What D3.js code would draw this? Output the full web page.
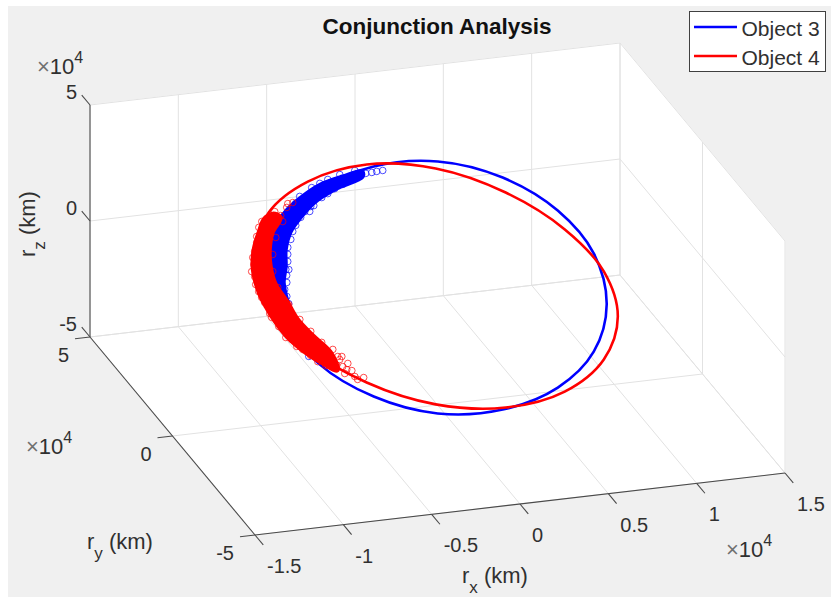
<!doctype html>
<html>
<head>
<meta charset="utf-8">
<title>Conjunction Analysis</title>
<script src="https://d3js.org/d3.v7.min.js"></script>
<style>
    body { margin: 0; background: #fff; }
    svg { display: block; }
    text { font-family: 'Liberation Sans', Arial, sans-serif; fill: #303030; }
    .tick { font-size: 20px; }
    .label { font-size: 22px; }
    .power { font-size: 22px; }
    .legend-text { font-size: 21px; }
    .title { font-size: 22.5px; font-weight: bold; fill: #111; text-anchor: middle; }
</style>
</head>
<body>
<svg id="chart" width="831" height="597"></svg>
<script>
// all positions in units of 1e4 km
const xTicks = [-1.5, -1, -0.5, 0, 0.5, 1, 1.5];
const yTicks = [-5, 0, 5];
const zTicks = [-5, 0, 5];
const seriesNames = ["Object 3", "Object 4"];
const seriesColors = ["#0000ff", "#ff0000"];

// orbit tracks
const orbit3X = [.142,.509,.774,.931,.911,.791,.541,.229,-.139,-.501,-.766,-.923,-.903,-.788,-.526,-.221];
const orbit3Y = [1.5,1.5,1,.5,-.5,-1,-1.5,-1.5,-1.5,-1.5,-1,-.5,.5,1,1.5,1.5];
const orbit3Z = [4.09,3.07,1.84,.28,-1.05,-2.55,-3.45,-4.12,-3.96,-2.91,-1.68,-.02,1.26,2.54,3.48,4.20];

const orbit4X = [.130,.526,.814,.988,.974,.848,.580,.246,-.150,-.541,-.828,-1.002,-.988,-.862,-.594,-.260];
const orbit4Y = [1.5,1.5,1,.5,-.5,-1,-1.5,-1.5,-1.5,-1.5,-1,-.5,.5,1,1.5,1.5];
const orbit4Z = [3.80,2.41,.99,-.55,-1.63,-2.94,-3.66,-4.05,-3.56,-2.27,-.93,.69,1.90,3.21,3.88,4.32];

// outline of the part of each sample cloud where the circles overlap solid
const dense3X = [-.289,-.396,-.509,-.600,-.760,-.828,-.914,-.950,-.951,-.883,-.872,-.900,-.876,-.818,-.818,-.743,-.675,-.590,-.430,-.289];
const dense3Y = [1.5,1.5,1.5,1.5,1,1,.5,0,-.5,-.5,-.5,-.5,0,.5,.5,1,1,1,1.5,1.5];
const dense3Z = [4.00,3.88,3.68,3.33,3.16,2.36,1.88,1.25,.61,-.10,.02,.65,1.06,1.27,2.00,2.29,2.96,3.53,3.48,3.83];

const dense4X = [-.839,-.884,-.913,-.988,-.993,-1.006,-1.013,-.968,-.941,-.833,-.743,-.710,-.703,-.800,-.843,-.900,-.921,-.903,-.908,-.845,-.800];
const dense4Y = [1,1,1,.5,.5,0,-.5,-.5,-1,-1,-1,-1.5,-1,-1,-.5,-.5,0,.5,.5,1,1];
const dense4Z = [3.10,2.93,2.40,2.16,1.30,.75,.57,-.03,-.35,-1.14,-1.65,-1.56,-1.26,-.48,-.14,.65,1.01,1.35,2.09,2.34,2.94];

// single samples that can still be told apart
const samples3X = [-.170,-.204,-.232,-.266,-.345,-.442,-.515,-.624,-.681,-.726,-.754,-.801,-.807,-.865,-.889,-.900,-.951,-.928,-.900,-.884,-.822,-.526,-.640,-.396,-.630,-.812,
    -.328,-.413,-.481,-.572,-.709,-.777,-.362,-.481,-.607,-.658,-.709,-.737,-.801,-.795,-.853,-.853];
const samples3Y = [1.5,1.5,1.5,1.5,1.5,1.5,1.5,1,1,1,1,.5,.5,0,-.5,-.5,-.5,-.5,-.5,-1,-1,1.5,1.5,1.5,1,.5,
    1.5,1.5,1.5,1.5,1,1,1.5,1.5,1,1,1,1,.5,.5,0,0];
const samples3Z = [3.98,3.97,3.95,3.94,3.88,3.44,3.12,3.26,2.84,2.27,1.61,1.47,.88,.75,.59,.22,.13,-.19,-.17,-.66,-1.32,3.74,3.28,3.58,3.05,1.14,
    4.12,4.02,3.87,3.60,3.47,2.97,3.72,3.26,3.28,3.07,2.52,1.94,1.78,1.12,1.04,.44];

const samples4X = [-.754,-.726,-.760,-.794,-.828,-.873,-.918,-.930,-.988,-.993,-.988,-1.012,-1.025,-.985,-.918,-.856,-.749,-.715,-.686,-.647,-.664,-.630,-.654,-.625,-.665,-.608,-.592,-.558,
    -.901,-.930,-.999,-1.005,-1.029,-.995,-.996,-.945,-.952,-.890,-.811,-.771,-.726,-.783,-.822,-.886,-.886,-.904,-.889,-.826,-.811,-.749,-.686,-.635,-.601,-.658];
const samples4Y = [1,1,1,1,1,1,1,1,.5,.5,.5,0,-.5,-.5,-1,-1,-1,-1,-1,-1,-1,-1,-1.5,-1.5,-1.5,-1.5,-1.5,-1.5,
    1,1,.5,.5,0,0,-.5,-.5,-1,-1,-1,-1,-1,1,1,.5,.5,0,-.5,-.5,-1,-1,-1,-1,-1,-1];
const samples4Z = [3.50,3.52,3.34,3.02,3.22,2.96,2.62,2.24,2.07,1.51,.99,.79,.76,.08,-.50,-.99,-1.34,-1.55,-1.66,-1.61,-1.85,-1.93,-1.61,-1.68,-1.77,-1.95,-2.09,-2.04,
    2.86,1.98,1.82,1.22,1.11,.52,.26,-.35,-.39,-.83,-1.29,-1.59,-1.80,2.75,2.10,1.85,1.12,.87,.55,-.15,-.25,-.78,-1.14,-1.49,-1.82,-1.47];

const svg = d3.select("#chart");

// fixed MATLAB-style view, the box edges as seen on screen
const origin = [255, 535];
const edgeX = [530, -62];
const edgeY = [-165, -198];
const edgeZ = [0, -232];
const scaleX = d3.scaleLinear().domain([-1.5, 1.5]).range([0, 1]);
const scaleY = d3.scaleLinear().domain([-5, 5]).range([0, 1]);
const scaleZ = d3.scaleLinear().domain([-5, 5]).range([0, 1]);

function project(x, y, z) {
    const a = scaleX(x), b = scaleY(y), c = scaleZ(z);
    return [
        origin[0] + a * edgeX[0] + b * edgeY[0] + c * edgeZ[0],
        origin[1] + a * edgeX[1] + b * edgeY[1] + c * edgeZ[1]
    ];
}
const zip3 = (xs, ys, zs) => xs.map((x, i) => project(x, ys[i], zs[i]));

svg.append("rect").attr("x", 8).attr("y", 6).attr("width", 823).attr("height", 591).attr("fill", "#f0f0f0");

// white walls and floor
const walls = [
    [[-1.5, -5, -5], [-1.5, 5, -5], [1.5, 5, -5], [1.5, -5, -5]],
    [[-1.5, 5, -5], [-1.5, 5, 5], [1.5, 5, 5], [1.5, 5, -5]],
    [[1.5, 5, -5], [1.5, 5, 5], [1.5, -5, 5], [1.5, -5, -5]]
];
svg.append("g").selectAll("path").data(walls).enter().append("path")
    .attr("d", w => d3.line()(w.map(p => project(...p))) + "Z")
    .attr("fill", "#fff")
    .attr("stroke", "#fff");

// grid lines
const gridLines = [];
xTicks.forEach(x => {
    gridLines.push([[x, -5, -5], [x, 5, -5]]);
    gridLines.push([[x, 5, -5], [x, 5, 5]]);
});
yTicks.forEach(y => {
    gridLines.push([[-1.5, y, -5], [1.5, y, -5]]);
    gridLines.push([[1.5, y, -5], [1.5, y, 5]]);
});
zTicks.forEach(z => {
    gridLines.push([[-1.5, 5, z], [1.5, 5, z]]);
    gridLines.push([[1.5, 5, z], [1.5, -5, z]]);
});
svg.append("g").selectAll("path").data(gridLines).enter().append("path")
    .attr("d", l => d3.line()(l.map(p => project(...p))))
    .attr("stroke", "#e2e2e2")
    .attr("stroke-width", 1)
    .attr("fill", "none");

// axis lines and ticks
const axisColor = "#4a4a4a";
const axisLines = [
    [[-1.5, -5, -5], [1.5, -5, -5]],
    [[-1.5, -5, -5], [-1.5, 5, -5]],
    [[-1.5, 5, -5], [-1.5, 5, 5]]
];
xTicks.forEach(x => axisLines.push([[x, -5, -5], [x, -5.5, -5]]));
yTicks.forEach(y => axisLines.push([[-1.5, y, -5], [-1.585, y, -5]]));
zTicks.forEach(z => axisLines.push([[-1.5, 5, z], [-1.5, 5.5, z]]));
svg.append("g").selectAll("path").data(axisLines).enter().append("path")
    .attr("d", l => d3.line()(l.map(p => project(...p))))
    .attr("stroke", axisColor)
    .attr("stroke-width", 1.1)
    .attr("fill", "none");

// tick labels
svg.append("g").selectAll("text").data(xTicks).enter().append("text")
    .attr("class", "tick")
    .attr("x", d => project(d, -5, -5)[0] + 12)
    .attr("y", d => project(d, -5, -5)[1] + 38)
    .text(d => d);
svg.append("g").selectAll("text").data(yTicks).enter().append("text")
    .attr("class", "tick")
    .attr("text-anchor", "end")
    .attr("x", d => project(-1.5, d, -5)[0] - 21)
    .attr("y", d => project(-1.5, d, -5)[1] + 25)
    .text(d => d);
svg.append("g").selectAll("text").data(zTicks).enter().append("text")
    .attr("class", "tick")
    .attr("text-anchor", "end")
    .attr("x", d => project(-1.5, 5, d)[0] - 13)
    .attr("y", d => project(-1.5, 5, d)[1] - 6)
    .text(d => d);

// x10^4 exponent markers
function powerLabel(x, y) {
    const t = svg.append("text").attr("class", "power").attr("x", x).attr("y", y);
    t.append("tspan").attr("fill", "#707070").text("\u00d7");
    t.append("tspan").text("10");
    t.append("tspan").attr("font-size", 16).attr("dy", -11).text("4");
}
powerLabel(37, 74);
powerLabel(26, 454);
powerLabel(726, 557);

// axis titles with subscripts
function axisLabel(sub, x, y, angle) {
    const t = svg.append("text").attr("class", "label")
        .attr("transform", "translate(" + x + "," + y + ")rotate(" + angle + ")");
    t.append("tspan").text("r");
    t.append("tspan").attr("font-size", 17).attr("dy", 10).text(sub);
    t.append("tspan").attr("dy", -10).text(" (km)");
}
axisLabel("x", 462, 583, 0);
axisLabel("y", 87, 549, 0);
axisLabel("z", 35, 257, -90);

svg.append("text").attr("class", "title").attr("x", 437).attr("y", 34).text("Conjunction Analysis");

// orbits and samples, object 3 first so object 4 sits on top
const ring = d3.line().curve(d3.curveCatmullRomClosed);
const objects = [
    { orbit: zip3(orbit3X, orbit3Y, orbit3Z), dense: zip3(dense3X, dense3Y, dense3Z), samples: zip3(samples3X, samples3Y, samples3Z) },
    { orbit: zip3(orbit4X, orbit4Y, orbit4Z), dense: zip3(dense4X, dense4Y, dense4Z), samples: zip3(samples4X, samples4Y, samples4Z) }
];
objects.forEach((o, i) => {
    const g = svg.append("g");
    g.append("path").attr("d", ring(o.orbit))
        .attr("fill", "none")
        .attr("stroke", seriesColors[i])
        .attr("stroke-width", 2.6);
    // thick round stroke stands in for the outer half of the overlapping circles
    g.append("path").attr("d", ring(o.dense))
        .attr("fill", seriesColors[i])
        .attr("stroke", seriesColors[i])
        .attr("stroke-linejoin", "round")
        .attr("stroke-width", 6);
    g.selectAll("circle").data(o.samples).enter().append("circle")
        .attr("cx", d => d[0])
        .attr("cy", d => d[1])
        .attr("r", 3.3)
        .attr("fill", "none")
        .attr("stroke", seriesColors[i])
        .attr("stroke-opacity", 0.7)
        .attr("stroke-width", 1);
});

// legend
const legend = svg.append("g");
legend.append("rect")
    .attr("x", 689.5).attr("y", 11.5).attr("width", 136).attr("height", 60)
    .attr("fill", "#fff")
    .attr("stroke", "#404040")
    .attr("stroke-width", 1);
seriesNames.forEach((name, i) => {
    const rowY = 27 + i * 29;
    legend.append("line")
        .attr("x1", 694).attr("x2", 737).attr("y1", rowY).attr("y2", rowY)
        .attr("stroke", seriesColors[i])
        .attr("stroke-width", 2.6);
    legend.append("text").attr("class", "legend-text")
        .attr("x", 741.5).attr("y", rowY + 9)
        .text(name);
});
</script>
</body>
</html>
